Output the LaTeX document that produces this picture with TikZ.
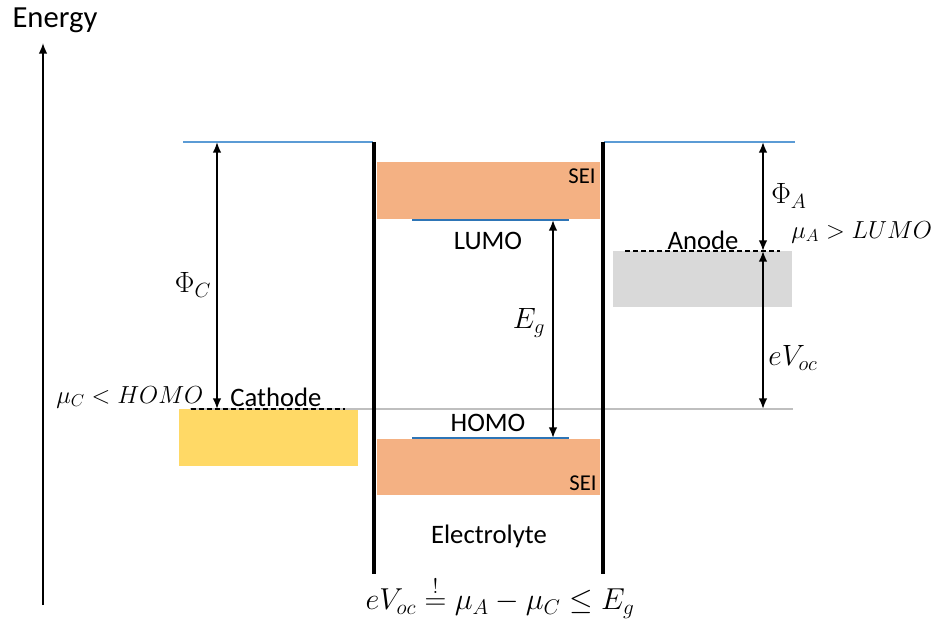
\RequirePackage{fix-cm}
\documentclass[tikz,border=0pt]{standalone}
\usepackage{amsmath}
\usepackage{fontspec}
\setmainfont{Carlito}
\usetikzlibrary{arrows.meta}

\begin{document}
\begin{tikzpicture}[x=0.75pt,y=-0.75pt,
  >={Latex[length=8pt,width=6.5pt]},
  testo/.style={font=\fontsize{20}{24}\selectfont, inner sep=0pt},
  formula/.style={font=\fontsize{22}{26}\selectfont, inner sep=0pt},
  condizione/.style={font=\fontsize{18.5}{22}\selectfont, inner sep=0pt, anchor=west},
  freccia/.style={<->, line width=1.4pt},
  livello/.style={line width=1.6pt},
  parete/.style={line width=2.3pt},
  tratteggio/.style={line width=1.5pt, dash pattern=on 4pt off 2pt}]

% Colori
\definecolor{colVuoto}{HTML}{5B9BD5}
\definecolor{colBanda}{HTML}{2E75B6}
\definecolor{colSEI}{HTML}{F4B183}
\definecolor{colCatodo}{HTML}{FFD966}
\definecolor{colAnodo}{HTML}{D9D9D9}
\definecolor{lineGray}{HTML}{BFBFBF}

\useasboundingbox (0,0) rectangle (934,623);

% Livelli (coordinate)
\coordinate (vuotoC) at (217,142);
\coordinate (muC) at (217,409);
\coordinate (lumo) at (553,220);
\coordinate (homo) at (553,438);
\coordinate (vuotoA) at (763,142);
\coordinate (muA) at (763,251);
\coordinate (muCdx) at (763,409);

% Blocchi colorati
\fill[colCatodo] (179,409) rectangle (358,466);
\fill[colAnodo] (613,251) rectangle (792,307);
\fill[colSEI] (377,162) rectangle (600,219);
\fill[colSEI] (377,439) rectangle (600,495);

% Riferimento grigio
\draw[lineGray, line width=1.2pt] (190,409) -- (793,409);

% Livelli di vuoto
\draw[livello, colVuoto] (183,142) -- (373,142);
\draw[livello, colVuoto] (604,142) -- (795,142);

% LUMO e HOMO
\draw[livello, colBanda] (412,220) -- (569,220);
\draw[livello, colBanda] (412,438) -- (569,438);

% Pareti dell'elettrolita
\draw[parete] (374,142) -- (374,574);
\draw[parete] (603,142) -- (603,574);

% Potenziali chimici
\draw[tratteggio] (191,409) -- (345,409);
\draw[tratteggio] (625,251) -- (780,251);

% Asse energia
\coordinate (asseBasso) at (43,605);
\coordinate (asseAlto) at (43,43);
\draw[->, line width=1.3pt] (asseBasso) -- (asseAlto);
\node[font=\fontsize{23}{27}\selectfont, inner sep=0pt] (energia) at (55,20) {Energy};

% Frecce
\draw[freccia] (vuotoC) -- (muC);
\draw[freccia] (lumo) -- (homo);
\draw[freccia] (vuotoA) -- (muA);
\draw[freccia] (muA) -- (muCdx);

% Etichette
\node[testo] (sei1) at (582,176) {\fontsize{17}{20}\selectfont SEI};
\node[testo] (sei2) at (583,483) {\fontsize{17}{20}\selectfont SEI};
\node[testo] (lumoTxt) at (488,241) {LUMO};
\node[testo] (homoTxt) at (488,423) {HOMO};
\node[testo] (anodo) at (703,240) {Anode};
\node[testo] (catodo) at (276,397) {Cathode};
\node[testo] (elettrolita) at (489,536) {Electrolyte};

% Grandezze
\node[formula] (phiC) at (193,285) {$\Phi_C$};
\node[formula] (phiA) at (789,196) {$\Phi_A$};
\node[formula] (Eg) at (529,323) {$E_g$};
\node[formula] (eVoc) at (793,358) {$eV_{oc}$};
\node[condizione] (condA) at (791,232) {$\mu_A > LUMO$};
\node[condizione] (condC) at (56,397) {$\mu_C < HOMO$};
\node[formula, font=\fontsize{22.7}{27}\selectfont] (relazione) at (500,597) {$eV_{oc} \overset{!}{=} \mu_A - \mu_C \le E_g$};

\end{tikzpicture}
\end{document}
